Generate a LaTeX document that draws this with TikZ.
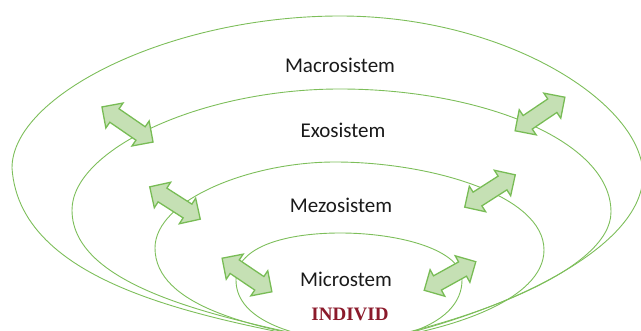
\documentclass[tikz,border=0pt]{standalone}
\usepackage{fontspec}
\setmainfont{Carlito}
\newfontfamily\serifbold{Liberation Serif}
\usetikzlibrary{shapes.arrows}
\definecolor{ringgreen}{HTML}{7DBE5A}
\definecolor{arrowfill}{HTML}{C5E0B4}
\definecolor{arrowline}{HTML}{78BC55}
\definecolor{indivred}{HTML}{8B1A2B}
\definecolor{labeltext}{HTML}{1A1A1A}
\tikzset{
  ring/.style={draw=ringgreen, line width=0.9pt},
  dblarrow/.style={double arrow, draw=arrowline, fill=arrowfill, line width=1.3pt,
    inner xsep=0pt, inner ysep=7.5pt, double arrow head extend=7pt,
    double arrow tip angle=90, minimum height=#1},
  lvl/.style={anchor=base, text=labeltext, font=\fontsize{21}{24}\selectfont},
  indiv/.style={anchor=base, text=indivred, font=\serifbold\bfseries\fontsize{19}{22}\selectfont}
}
\begin{document}
\begin{tikzpicture}[x=1pt,y=-1pt]
\useasboundingbox (0,0) rectangle (641,331);
\begin{scope}
\clip (0,0) rectangle (641,331);
% outer ring (Macrosistem)
\draw[ring] (345,345) .. controls (220,320) and (20,290) .. (12,168)
  .. controls (12,95) and (170,16) .. (340,16)
  .. controls (507,16) and (643,104) .. (643,175)
  .. controls (643,255) and (480,322) .. (355,345);
% exo ring
\draw[ring] (345,344) .. controls (230,320) and (72,290) .. (72,210)
  .. controls (72,150) and (200,89) .. (340,89)
  .. controls (480,89) and (611,140) .. (611,212)
  .. controls (611,270) and (470,322) .. (355,344);
% mezo ring
\draw[ring] (345,343) .. controls (250,328) and (155,305) .. (155,248)
  .. controls (155,200) and (250,162) .. (335,162)
  .. controls (430,162) and (544,195) .. (544,250)
  .. controls (544,300) and (450,332) .. (355,343);
% micro ring
\draw[ring] (345,342) .. controls (280,335) and (236,315) .. (236,280)
  .. controls (236,245) and (290,233) .. (340,233)
  .. controls (400,233) and (462,250) .. (462,280)
  .. controls (462,315) and (420,338) .. (355,342);
\end{scope}
% arrows
\node[dblarrow=62pt, rotate=-34.5] (a1) at (127.5,124.5) {};
\node[dblarrow=60pt, rotate=34] (a2) at (540,114) {};
\node[dblarrow=60pt, rotate=-32.6] (a3) at (175,203) {};
\node[dblarrow=60pt, rotate=32.6] (a4) at (490,191) {};
\node[dblarrow=60pt, rotate=-34] (a5) at (247,275) {};
\node[dblarrow=59pt, rotate=29] (a6) at (450,276) {};
% labels
\node[lvl] (macro) at (340,73) {Macrosistem};
\node[lvl] (exo) at (343,138) {Exosistem};
\node[lvl] (mezo) at (341,213) {Mezosistem};
\node[lvl] (micro) at (346,287) {Microstem};
\node[indiv] (ind) at (350,321) {INDIVID};
\end{tikzpicture}
\end{document}
